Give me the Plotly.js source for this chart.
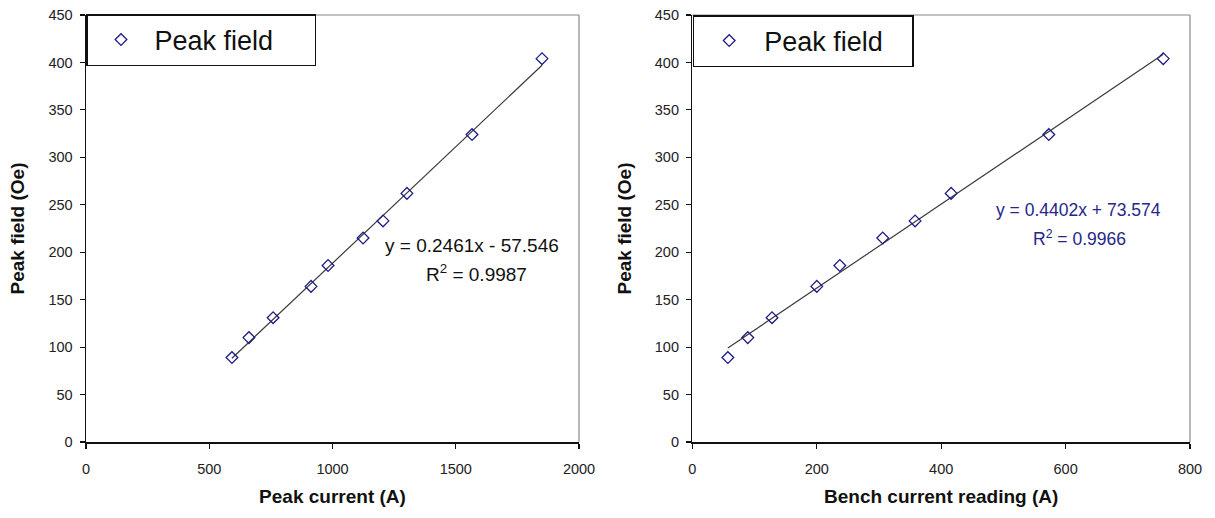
<!DOCTYPE html>
<html>
<head>
<meta charset="utf-8">
<script src="https://cdn.plot.ly/plotly-3.0.1.min.js"></script>
<style>html,body{margin:0;padding:0;background:#fff;}#chart{width:1215px;height:518px;}</style>
</head>
<body>
<div id="chart"></div>
<script>
// ---- data ----
const peakCurrent = [592, 661, 759, 913, 982, 1124, 1205, 1302, 1566, 1850];   // A (left panel x)
const benchCurrent = [57, 89, 128, 200, 237, 306, 358, 416, 573, 757];         // A (right panel x)
const peakField = [89, 110, 131, 164, 186, 215, 233, 262, 324, 404];           // Oe (both panels y)
const seriesName = "Peak field";
const leftEquation = "y = 0.2461x - 57.546";
const leftR2 = "R<sup>2</sup> = 0.9987";
const rightEquation = "y = 0.4402x + 73.574";
const rightR2 = "R<sup>2</sup> = 0.9966";

// least-squares trendline over the data range
function trend(xs, ys) {
  const n = xs.length;
  let sx = 0, sy = 0, sxx = 0, sxy = 0;
  for (let i = 0; i < n; i++) { sx += xs[i]; sy += ys[i]; sxx += xs[i]*xs[i]; sxy += xs[i]*ys[i]; }
  const b = (n*sxy - sx*sy) / (n*sxx - sx*sx);
  const a = (sy - b*sx) / n;
  const x0 = Math.min(...xs), x1 = Math.max(...xs);
  return {x: [x0, x1], y: [a + b*x0, a + b*x1]};
}
const tl = trend(peakCurrent, peakField);
const tr = trend(benchCurrent, peakField);

const FONT = "Arial, 'Liberation Sans', sans-serif";
const markerStyle = {symbol: "diamond-open", size: 9, color: "#1c1c86", line: {width: 1.3, color: "#1c1c86"}};

const traces = [
  {x: tl.x, y: tl.y, mode: "lines", line: {color: "#3a3a3a", width: 1.2}, showlegend: false, hoverinfo: "skip", xaxis: "x", yaxis: "y"},
  {x: peakCurrent, y: peakField, mode: "markers", name: seriesName, marker: markerStyle, xaxis: "x", yaxis: "y", legend: "legend"},
  {x: tr.x, y: tr.y, mode: "lines", line: {color: "#3a3a3a", width: 1.2}, showlegend: false, hoverinfo: "skip", xaxis: "x2", yaxis: "y2"},
  {x: benchCurrent, y: peakField, mode: "markers", name: seriesName, marker: markerStyle, xaxis: "x2", yaxis: "y2", legend: "legend2"}
];

const W = 1215, H = 518;
const axCommon = {
  showline: true, linecolor: "#111", linewidth: 1.5, ticks: "outside", ticklen: 5, tickcolor: "#111", tickwidth: 1.2,
  showgrid: false, zeroline: false, tickfont: {family: FONT, size: 14.5, color: "#222"}, fixedrange: true
};
const titleFont = {family: FONT, size: 19, color: "#111", weight: "bold"};
const yDomain = [1 - 442/H, 1 - 15/H];

const legendCommon = {
  bgcolor: "#fff", bordercolor: "#111", borderwidth: 1.5, font: {family: FONT, size: 27, color: "#111"},
  xanchor: "left", yanchor: "top", orientation: "h", entrywidthmode: "pixels"
};

const layout = {
  width: W, height: H,
  margin: {l: 0, r: 0, t: 0, b: 0},
  paper_bgcolor: "#fff", plot_bgcolor: "#fff",
  font: {family: FONT},
  xaxis: Object.assign({}, axCommon, {domain: [86/W, 579/W], range: [0, 2000], tick0: 0, dtick: 500, anchor: "y",
    title: {text: "Peak current (A)", font: titleFont, standoff: 14}, ticklabelstandoff: 8}),
  yaxis: Object.assign({}, axCommon, {domain: yDomain, range: [0, 450], tick0: 0, dtick: 50, anchor: "x",
    title: {text: "Peak field (Oe)", font: titleFont, standoff: 18}, ticklabelstandoff: 4}),
  xaxis2: Object.assign({}, axCommon, {domain: [692.4/W, 1190/W], range: [0, 800], tick0: 0, dtick: 200, anchor: "y2",
    title: {text: "Bench current reading (A)", font: titleFont, standoff: 14}, ticklabelstandoff: 8}),
  yaxis2: Object.assign({}, axCommon, {domain: yDomain, range: [0, 450], tick0: 0, dtick: 50, anchor: "x2",
    title: {text: "Peak field (Oe)", font: titleFont, standoff: 18}, ticklabelstandoff: 4}),
  legend: Object.assign({}, legendCommon, {x: 86/W, y: 1 - 14/H, itemwidth: 57, entrywidth: 155}),
  legend2: Object.assign({}, legendCommon, {x: 692.7/W, y: 1 - 15/H, itemwidth: 60, entrywidth: 143}),
  shapes: [
    {type: "line", xref: "x domain", yref: "y domain", x0: 0, x1: 1, y0: 1, y1: 1, line: {color: "#888", width: 1.2}},
    {type: "line", xref: "x domain", yref: "y domain", x0: 1, x1: 1, y0: 0, y1: 1, line: {color: "#888", width: 1.2}},
    {type: "line", xref: "x2 domain", yref: "y2 domain", x0: 0, x1: 1, y0: 1, y1: 1, line: {color: "#888", width: 1.2}},
    {type: "line", xref: "x2 domain", yref: "y2 domain", x0: 1, x1: 1, y0: 0, y1: 1, line: {color: "#888", width: 1.2}}
  ],
  annotations: [
    {xref: "x", yref: "y", x: 1566, y: 207, text: leftEquation, showarrow: false, xanchor: "center", font: {family: FONT, size: 19, color: "#111"}},
    {xref: "x", yref: "y", x: 1586, y: 178, text: leftR2, showarrow: false, xanchor: "center", font: {family: FONT, size: 19, color: "#111"}},
    {xref: "x2", yref: "y2", x: 621, y: 244, text: rightEquation, showarrow: false, xanchor: "center", font: {family: FONT, size: 17.5, color: "#26268a"}},
    {xref: "x2", yref: "y2", x: 622, y: 215, text: rightR2, showarrow: false, xanchor: "center", font: {family: FONT, size: 17.5, color: "#26268a"}}
  ]
};

Plotly.newPlot("chart", traces, layout, {displayModeBar: false, staticPlot: true});
</script>
</body>
</html>
